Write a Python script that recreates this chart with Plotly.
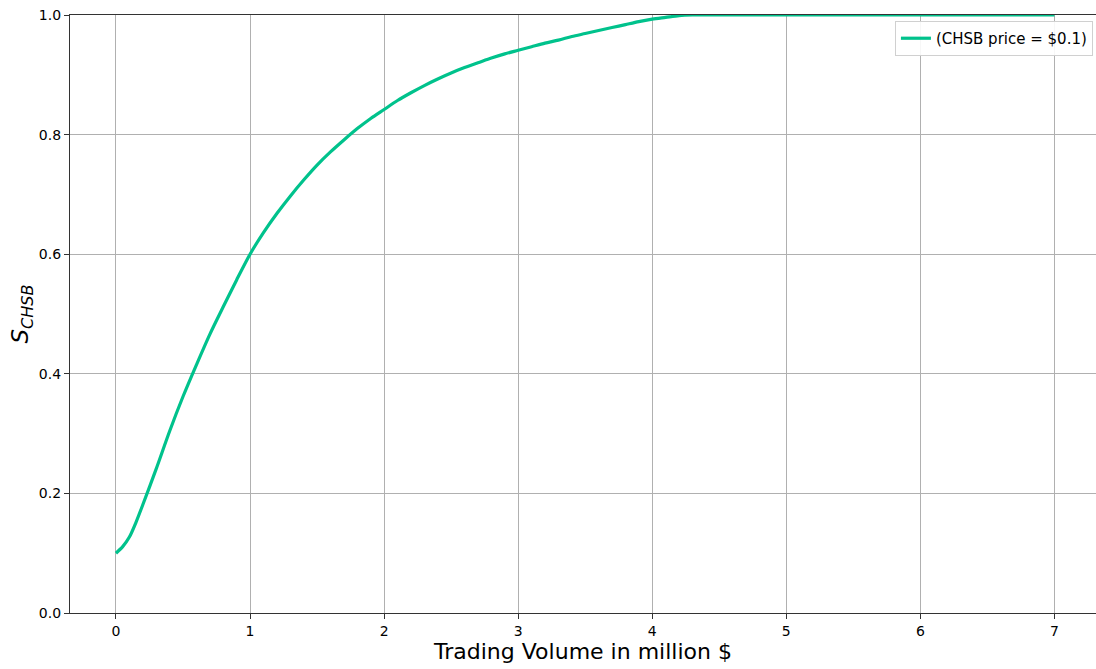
import plotly.graph_objects as go

# Data
volume_musd = [0.0, 0.05, 0.1, 0.15, 0.2, 0.3, 0.4, 0.5, 0.6, 0.7, 0.8, 0.9,
               1.0, 1.1, 1.2, 1.3, 1.4, 1.5, 1.6, 1.7, 1.8, 1.9,
               2.0, 2.1, 2.2, 2.3, 2.4, 2.5, 2.6, 2.7, 2.8, 2.9,
               3.0, 3.1, 3.2, 3.3, 3.4, 3.5, 3.6, 3.7, 3.8, 3.9,
               4.0, 4.1, 4.2, 4.3, 4.5, 5.0, 5.5, 6.0, 6.5, 7.0]
s_chsb = [0.100, 0.111, 0.127, 0.152, 0.181, 0.241, 0.304, 0.362, 0.415, 0.466, 0.512, 0.557,
          0.600, 0.636, 0.668, 0.697, 0.724, 0.749, 0.771, 0.791, 0.810, 0.827,
          0.842, 0.857, 0.870, 0.882, 0.893, 0.903, 0.912, 0.920, 0.928, 0.935,
          0.941, 0.947, 0.953, 0.958, 0.964, 0.969, 0.974, 0.979, 0.984, 0.989,
          0.993, 0.996, 0.999, 1.000, 1.000, 1.000, 1.000, 1.000, 1.000, 1.000]
series_name = "(CHSB price = $0.1)"
x_ticks = [0, 1, 2, 3, 4, 5, 6, 7]
y_ticks = [0.0, 0.2, 0.4, 0.6, 0.8, 1.0]

FONT = "DejaVu Sans"

fig = go.Figure()
fig.add_trace(go.Scatter(
    x=volume_musd, y=s_chsb, mode="lines", name=series_name,
    line=dict(color="#00c28c", width=3.2, shape="spline", smoothing=0.8),
    showlegend=True,
))

fig.update_layout(
    width=1096, height=669,
    margin=dict(l=70, r=0, t=15, b=56),
    paper_bgcolor="white", plot_bgcolor="white",
    font=dict(family=FONT, color="#000000", size=14),
    showlegend=True,
    legend=dict(
        x=0.997, y=0.99, xanchor="right", yanchor="top",
        bgcolor="rgba(255,255,255,0.9)", bordercolor="#d0d0d0", borderwidth=1,
        font=dict(family=FONT, size=15, color="#000000"),
    ),
)

fig.update_xaxes(
    range=[-0.343, 7.31],
    tickvals=x_ticks, ticktext=[str(v) for v in x_ticks],
    showgrid=True, gridcolor="#b0b0b0", gridwidth=1,
    zeroline=False,
    showline=True, linecolor="#333333", linewidth=1.2, mirror=True,
    ticks="outside", ticklen=5, tickcolor="#333333",
    tickfont=dict(family=FONT, size=14, color="#000000"),
    title=dict(text="Trading Volume in million $", font=dict(family=FONT, size=22, color="#000000"), standoff=3),
)
fig.update_yaxes(
    range=[0, 1.0],
    tickvals=y_ticks, ticktext=[f"{v:.1f}" for v in y_ticks],
    showgrid=True, gridcolor="#b0b0b0", gridwidth=1,
    zeroline=False,
    showline=True, linecolor="#333333", linewidth=1.2, mirror=False,
    ticks="outside", ticklen=5, tickcolor="#333333",
    tickfont=dict(family=FONT, size=14, color="#000000"),
    title=dict(text="<i>S</i><sub><i>CHSB</i></sub>", font=dict(family=FONT, size=23, color="#000000"), standoff=3),
)

fig.write_html(
    "out.html",
    config={"displayModeBar": False},
    post_script="document.body.style.margin='0';document.body.style.overflow='hidden';",
)
